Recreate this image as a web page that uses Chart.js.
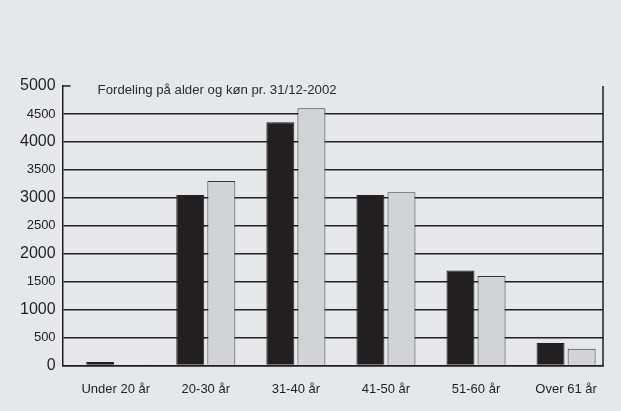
<!DOCTYPE html>
<html>
<head>
<meta charset="utf-8">
<script src="https://cdn.jsdelivr.net/npm/chart.js@4/dist/chart.umd.min.js"></script>
<style>
  html, body { margin: 0; padding: 0; background: #e6e7e8; }
  #wrap { width: 621px; height: 411px; }
</style>
</head>
<body>
<div id="wrap"><canvas id="chart"></canvas></div>
<script>
const ageGroups = ['Under 20 år', '20-30 år', '31-40 år', '41-50 år', '51-60 år', 'Over 61 år'];
const darkSeries = [60, 3050, 4350, 3050, 1700, 400];
const lightSeries = [5, 3300, 4600, 3100, 1600, 300];
const yTicks = [0, 500, 1000, 1500, 2000, 2500, 3000, 3500, 4000, 4500, 5000];
const chartTitle = 'Fordeling på alder og køn pr. 31/12-2002';

const ink = '#231f20';
const fontFamily = '"Liberation Sans", Arial, sans-serif';

// frame: right edge, short top tick and the title inside the plot
const framePlugin = {
    id: 'frame',
    afterDraw(chart) {
        const { ctx, chartArea } = chart;
        const y = chart.scales.y;
        const top = y.getPixelForValue(5000);
        ctx.save();
        ctx.strokeStyle = ink;
        ctx.lineWidth = 1.5;
        ctx.beginPath();
        ctx.moveTo(chartArea.right, top);
        ctx.lineTo(chartArea.right, chartArea.bottom);
        ctx.moveTo(chartArea.left, top);
        ctx.lineTo(chartArea.left + 8, top);
        ctx.stroke();
        ctx.fillStyle = '#2b2b2b';
        ctx.font = '13.2px ' + fontFamily;
        ctx.textBaseline = 'middle';
        ctx.fillText(chartTitle, chartArea.left + 35, top + 4);
        ctx.restore();
    }
};

new Chart(document.getElementById('chart'), {
    type: 'bar',
    data: {
        datasets: [{
            data: darkSeries.map((v, i) => ({ x: i, y: v })),
            backgroundColor: ink,
            borderColor: ink,
            borderWidth: 1,
            categoryPercentage: 0.69,
            barPercentage: 0.9
        }, {
            data: lightSeries.map((v, i) => ({ x: i, y: v })),
            backgroundColor: '#d1d3d4',
            borderColor: '#3a3a3a',
            borderWidth: 1,
            categoryPercentage: 0.69,
            barPercentage: 0.9
        }]
    },
    options: {
        responsive: true,
        maintainAspectRatio: false,
        animation: false,
        layout: { padding: { top: 86, right: 18, bottom: 6, left: 13 } },
        plugins: {
            legend: { display: false },
            tooltip: { enabled: false }
        },
        scales: {
            x: {
                type: 'linear',
                offset: false,
                min: -0.59,
                max: 5.41,
                afterBuildTicks: axis => { axis.ticks = ageGroups.map((_, i) => ({ value: i })); },
                grid: { display: false },
                border: { color: ink, width: 1.5 },
                ticks: {
                    callback: v => ageGroups[v],
                    color: ink,
                    padding: 8,
                    maxRotation: 0,
                    font: { family: fontFamily, size: 13 }
                }
            },
            y: {
                min: 0,
                max: 5000,
                afterBuildTicks: axis => { axis.ticks = yTicks.map(v => ({ value: v })); },
                border: { color: ink, width: 1.5 },
                grid: {
                    color: c => c.tick && c.tick.value === 5000 ? 'rgba(0,0,0,0)' : ink,
                    lineWidth: 1.5,
                    drawTicks: false
                },
                ticks: {
                    color: ink,
                    padding: 7,
                    callback: v => String(v),
                    font: c => ({
                        family: fontFamily,
                        size: c.tick && c.tick.value % 1000 === 0 ? 16 : 13
                    })
                }
            }
        }
    },
    plugins: [framePlugin]
});
</script>
</body>
</html>
